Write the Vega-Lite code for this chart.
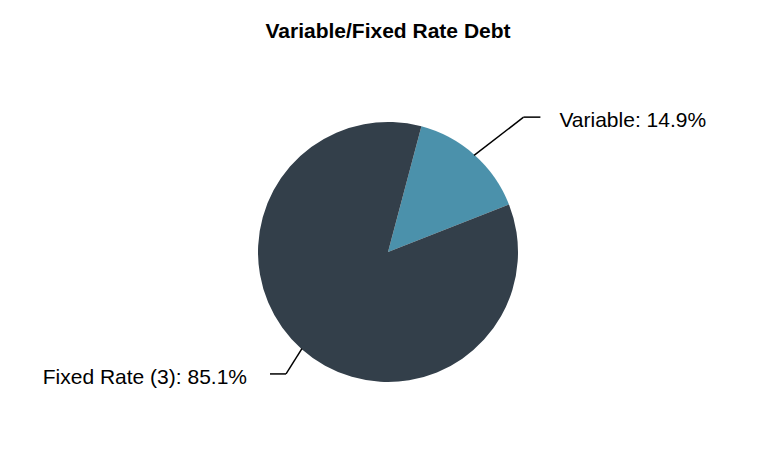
{
  "$schema": "https://vega.github.io/schema/vega-lite/v6.json",
  "width": 776,
  "height": 388,
  "autosize": {"type": "none"},
  "padding": {"top": 58, "left": 0, "right": 0, "bottom": 4},
  "background": "white",
  "title": {
    "text": "Variable/Fixed Rate Debt",
    "font": "Liberation Sans",
    "fontSize": 21,
    "fontWeight": "bold",
    "color": "#000000",
    "anchor": "middle",
    "frame": "group",
    "baseline": "alphabetic",
    "offset": -1
  },
  "config": {"view": {"stroke": null}},
  "data": {
    "values": [
      {"label": "Variable", "value": 14.9},
      {"label": "Fixed Rate (3)", "value": 85.1}
    ]
  },
  "transform": [
    {"joinaggregate": [{"op": "sum", "field": "value", "as": "total"}]},
    {
      "window": [{"op": "sum", "field": "value", "as": "cum"}],
      "sort": [{"field": "label", "order": "descending"}],
      "frame": [null, 0]
    },
    {"calculate": "0.26 + 2 * PI * (datum.cum - datum.value / 2) / datum.total", "as": "mid"},
    {"calculate": "sin(datum.mid)", "as": "sx"},
    {"calculate": "cos(datum.mid)", "as": "cy"},
    {"calculate": "datum.sx", "as": "x1"},
    {"calculate": "datum.cy", "as": "y1"},
    {"calculate": "1.38 * datum.sx + 0.13", "as": "xe"},
    {"calculate": "1.33 * datum.cy + 0.05", "as": "ye"},
    {"calculate": "datum.xe + (datum.sx > 0 ? 0.13 : -0.124)", "as": "xend"},
    {"calculate": "datum.label + ': ' + format(datum.value, '.1f') + '%'", "as": "caption"}
  ],
  "layer": [
    {
      "mark": {"type": "arc", "outerRadius": 130},
      "encoding": {
        "theta": {
          "field": "value",
          "type": "quantitative",
          "stack": true,
          "scale": {"range": [0.26, 6.54319]}
        },
        "color": {
          "field": "label",
          "type": "nominal",
          "scale": {
            "domain": ["Variable", "Fixed Rate (3)"],
            "range": ["#4B91AB", "#333F4A"]
          },
          "legend": null
        },
        "order": {"field": "label", "sort": "descending"}
      }
    },
    {
      "mark": {"type": "rule", "color": "#000000", "strokeWidth": 1.5},
      "encoding": {
        "x": {"field": "x1", "type": "quantitative", "scale": {"domain": [-3, 3], "nice": false, "zero": false}, "axis": null},
        "y": {"field": "y1", "type": "quantitative", "scale": {"domain": [-1.5, 1.5], "nice": false, "zero": false}, "axis": null},
        "x2": {"field": "xe"},
        "y2": {"field": "ye"}
      }
    },
    {
      "mark": {"type": "rule", "color": "#000000", "strokeWidth": 1.5},
      "encoding": {
        "x": {"field": "xe", "type": "quantitative", "scale": {"domain": [-3, 3], "nice": false, "zero": false}, "axis": null},
        "y": {"field": "ye", "type": "quantitative", "scale": {"domain": [-1.5, 1.5], "nice": false, "zero": false}, "axis": null},
        "x2": {"field": "xend"},
        "y2": {"field": "ye"}
      }
    },
    {
      "transform": [{"filter": "datum.sx > 0"}],
      "mark": {
        "type": "text",
        "align": "left",
        "baseline": "alphabetic",
        "dx": 19,
        "dy": 10,
        "font": "Liberation Sans",
        "fontSize": 21,
        "color": "#000000"
      },
      "encoding": {
        "x": {"field": "xend", "type": "quantitative", "scale": {"domain": [-3, 3], "nice": false, "zero": false}, "axis": null},
        "y": {"field": "ye", "type": "quantitative", "scale": {"domain": [-1.5, 1.5], "nice": false, "zero": false}, "axis": null},
        "text": {"field": "caption"}
      }
    },
    {
      "transform": [{"filter": "datum.sx < 0"}],
      "mark": {
        "type": "text",
        "align": "right",
        "baseline": "alphabetic",
        "dx": -23,
        "dy": 10,
        "font": "Liberation Sans",
        "fontSize": 21,
        "color": "#000000"
      },
      "encoding": {
        "x": {"field": "xend", "type": "quantitative", "scale": {"domain": [-3, 3], "nice": false, "zero": false}, "axis": null},
        "y": {"field": "ye", "type": "quantitative", "scale": {"domain": [-1.5, 1.5], "nice": false, "zero": false}, "axis": null},
        "text": {"field": "caption"}
      }
    }
  ]
}
